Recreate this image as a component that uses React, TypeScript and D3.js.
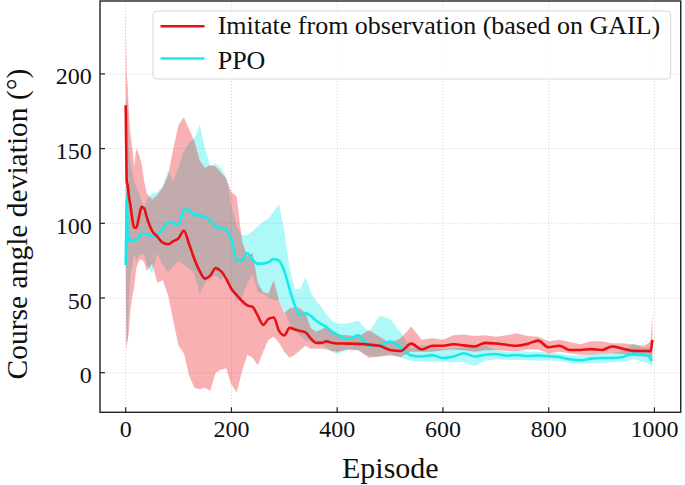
import * as d3 from "d3";
import { useMemo } from "react";

// episode grid the values were read at
const episodes = [
  0, 1, 2, 4, 6, 9, 12, 16, 20, 25, 30, 35, 40,
  50, 60, 70, 80, 90, 100, 110, 120, 130, 140, 150, 160, 170, 180, 190, 200,
  210, 220, 230, 240, 250, 260, 270, 280, 290, 300, 310, 320, 330, 340, 350,
  360, 370, 380, 390, 400,
  420, 440, 460, 480, 500, 520, 540, 560, 580, 600, 620, 640, 660, 680, 700,
  720, 740, 760, 780, 800, 820, 840, 860, 880, 900, 920, 940, 960, 980,
  990, 993, 996,
];

// Imitate from observation (GAIL)
const gailMean = [
  179, 150, 128, 125, 118, 112, 104, 97, 97, 104, 111, 110, 104,
  95, 91, 87, 86, 88, 90, 95, 86, 76, 68, 63, 65, 70, 68, 63, 56,
  52, 48, 45, 44, 38, 32, 36, 37, 28, 25, 30, 29, 28, 27, 23,
  20, 20, 21, 20, 19.6,
  19.5, 19.3, 18.8, 18, 15.2, 14.5, 19.5, 15.5, 18, 18, 19, 18.3, 17.5, 20, 19.5,
  18.7, 18, 19.3, 21.5, 17, 18, 15.2, 15.2, 15.8, 15.2, 17.5, 16, 14.6, 14.5,
  14.5, 14.3, 22,
];
const gailUpper = [
  245, 215, 200, 190, 175, 160, 152, 138, 150, 146, 140, 128, 120,
  116, 119, 124, 132, 150, 166, 171, 163, 155, 142, 137, 139, 138, 134, 130, 121,
  118, 88, 78, 80, 60, 54, 53, 62, 48, 40, 43, 44, 43, 40, 30,
  27.5, 29, 31, 27, 25.5,
  25, 24, 28.6, 24, 20, 23, 31, 22, 23, 22, 25, 25.5, 24.5, 25, 24,
  25, 26.4, 24.5, 24, 21, 22, 20.5, 19, 21, 21, 19.7, 19.7, 18.8, 18,
  20, 22, 39,
];
const gailLower = [
  115, 15, 18, 22, 28, 42, 50, 57, 70, 75, 76, 74, 68,
  73, 60, 62, 52, 35, 18, 13, -2, -10, -11, -10, -12, 0, 2, 3, -8,
  -13, 1, 12, 10, 5, 14, 22, 24, 20, 14, 10, 12, 15, 18, 16,
  16, 16, 15.5, 14.5, 14,
  15.5, 15, 10, 10.8, 11.5, 10.5, 14, 14, 14, 15, 15.5, 15, 14, 15, 15.2,
  14.5, 14.5, 15.5, 15.5, 13, 14, 13, 12, 12, 12.5, 13, 12.5, 11.2, 10.8,
  10.5, 9.6, 9.6,
];

// PPO
const ppoMean = [
  72, 96, 118, 88, 90, 89, 88, 89, 88, 91, 93, 93, 93,
  91, 93, 96, 101, 100, 99, 109, 109, 105.5, 105.5, 104, 102, 98, 97, 96, 89,
  75, 75, 80, 75.5, 73, 73, 74, 76, 75, 68, 56, 45, 38.6, 39.7, 38,
  35, 32.5, 30.5, 27.5, 25.5,
  22.5, 25, 18, 18.5, 20.8, 17, 11.5, 10.8, 11.8, 9.8, 10.8, 13, 10.8, 12, 12.5,
  11.4, 11.9, 11.2, 11.5, 11, 10.5, 9, 8.3, 9.4, 9.8, 9.8, 10.5, 12.8, 12,
  11, 9, 8,
];
const ppoUpper = [
  97, 150, 185, 180, 150, 142, 135, 128, 124, 120, 115, 111, 116,
  120, 121, 125, 135, 128, 138, 148, 154, 157, 166, 150, 138, 140, 137, 131, 112,
  98, 92, 92, 95, 98, 101, 103, 108, 113, 95, 70, 56, 56, 64, 54,
  48, 44, 39, 35, 33,
  33, 35, 27, 38, 36, 27, 16, 18.5, 17.4, 15.5, 16.5, 17, 18, 18, 15,
  14, 15, 14, 14, 13.4, 12.8, 11.5, 11.5, 12.3, 12.5, 13, 14.5, 19.5, 16.5,
  17, 19.7, 20,
];
const ppoLower = [
  70, 35, 20, 22, 50, 66, 70, 80, 75, 79, 79, 80, 72,
  66, 80, 72, 67, 71, 75, 72, 70, 66, 53, 60, 64, 65, 62, 66, 55,
  48, 50, 60, 66, 54, 53, 50, 48.6, 48, 41, 33, 28, 24.6, 22, 20.5,
  20, 19, 17, 14, 12.5,
  15.5, 15, 11, 10.8, 12.5, 10, 8, 7.4, 7.4, 7.4, 7, 7.2, 4.5, 8, 9,
  8.5, 8.5, 8.3, 8, 8.3, 7.8, 6.5, 6, 6.5, 6.7, 7, 7.4, 9, 7.4,
  6, 5, 4,
];

const xTicks = [0, 200, 400, 600, 800, 1000];
const yTicks = [0, 50, 100, 150, 200];
const seriesNames = ["Imitate from observation (based on GAIL)", "PPO"];

const RED = "#ea0f14";
const CYAN = "#18eaea";
const FONT = "'Liberation Serif', 'Times New Roman', serif";

const W = 685;
const H = 485;
const left = 100;
const right = 680.7;
const top = 1;
const bottom = 412.3;

type Row = { ep: number; mean: number; lo: number; hi: number };

function rows(mean: number[], lo: number[], hi: number[]): Row[] {
  return episodes.map((ep, i) => ({ ep, mean: mean[i], lo: lo[i], hi: hi[i] }));
}

export default function App() {
  const x = d3.scaleLinear().domain([-48.6, 1049.7]).range([left, right]);
  const y = d3.scaleLinear().domain([-26.5, 248.8]).range([bottom, top]);

  const gail = useMemo(() => rows(gailMean, gailLower, gailUpper), []);
  const ppo = useMemo(() => rows(ppoMean, ppoLower, ppoUpper), []);

  const band = d3
    .area<Row>()
    .x((d) => x(d.ep))
    .y0((d) => y(d.lo))
    .y1((d) => y(d.hi))
    .curve(d3.curveLinear);
  const line = d3
    .line<Row>()
    .x((d) => x(d.ep))
    .y((d) => y(d.mean))
    .curve(d3.curveMonotoneX);

  return (
    <svg width={W} height={H} style={{ position: "absolute", left: 0, top: 0, background: "#fff" }}>
      <defs>
        <clipPath id="plot">
          <rect x={left} y={top} width={right - left} height={bottom - top} />
        </clipPath>
      </defs>

      {/* grid */}
      <g stroke="#c9c9c9" strokeWidth={0.8} strokeDasharray="1.2,2">
        {xTicks.map((t) => (
          <line key={"gx" + t} x1={x(t)} x2={x(t)} y1={top} y2={bottom} />
        ))}
        {yTicks.map((t) => (
          <line key={"gy" + t} x1={left} x2={right} y1={y(t)} y2={y(t)} />
        ))}
      </g>

      <g clipPath="url(#plot)">
        <path d={band(ppo) ?? ""} fill={CYAN} fillOpacity={0.35} />
        <path d={band(gail) ?? ""} fill={RED} fillOpacity={0.33} />
        <path d={line(ppo) ?? ""} fill="none" stroke={CYAN} strokeWidth={2.6} />
        <path d={line(gail) ?? ""} fill="none" stroke={RED} strokeWidth={2.6} />
      </g>

      {/* spines */}
      <rect x={left} y={top} width={right - left} height={bottom - top} fill="none" stroke="#222" strokeWidth={1.4} />

      {/* ticks, pointing in */}
      <g stroke="#222" strokeWidth={1.2}>
        {xTicks.map((t) => (
          <line key={"tx" + t} x1={x(t)} x2={x(t)} y1={bottom} y2={bottom - 5} />
        ))}
        {yTicks.map((t) => (
          <line key={"ty" + t} x1={left} x2={left + 5} y1={y(t)} y2={y(t)} />
        ))}
      </g>

      <g fontFamily={FONT} fontSize={24} fill="#111">
        {xTicks.map((t) => (
          <text key={"lx" + t} x={x(t)} y={436.7} textAnchor="middle">
            {t}
          </text>
        ))}
        {yTicks.map((t) => (
          <text key={"ly" + t} x={91.7} y={y(t) + 10.5} textAnchor="end">
            {t}
          </text>
        ))}
      </g>

      <text x={(left + right) / 2} y={478.3} textAnchor="middle" fontFamily={FONT} fontSize={30} fill="#111">
        Episode
      </text>
      <text
        transform={`translate(27, 224) rotate(-90)`}
        textAnchor="middle"
        fontFamily={FONT}
        fontSize={29.5}
        fill="#111"
      >
        Course angle deviation (°)
      </text>

      {/* legend */}
      <g fontFamily={FONT} fontSize={26} fill="#111">
        <rect x={153} y={11} width={517.7} height={68} rx={4} fill="#fff" fillOpacity={0.8} stroke="#d6d6d6" strokeWidth={1} />
        <line x1={160.5} x2={204.5} y1={26.3} y2={26.3} stroke={RED} strokeWidth={2.6} />
        <line x1={160.5} x2={204.5} y1={58.5} y2={58.5} stroke={CYAN} strokeWidth={2.6} />
        <text x={217.7} y={34.3}>{seriesNames[0]}</text>
        <text x={217.7} y={68.6}>{seriesNames[1]}</text>
      </g>
    </svg>
  );
}
